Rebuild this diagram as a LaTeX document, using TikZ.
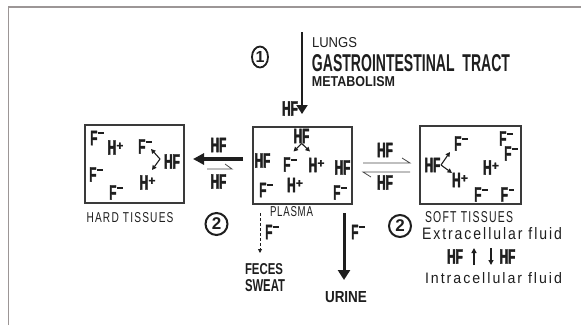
\documentclass[tikz,border=0pt]{standalone}
\usepackage{fontspec}
\usepackage{graphicx}
\setmainfont{Liberation Sans}
\newfontfamily\cf[FakeStretch=0.56, BoldFeatures={FakeBold=2}]{Liberation Sans}
\newfontfamily\pf[BoldFeatures={FakeBold=1.5}]{Liberation Sans}
\usetikzlibrary{arrows.meta,shapes.geometric}
\definecolor{ink}{HTML}{1E1E1E}
\definecolor{boxline}{HTML}{3A3A3A}
\definecolor{framec}{HTML}{9C9696}
\newcommand\Fm{F\hspace{0.8pt}\raisebox{11pt}{\rule{5.5pt}{1.8pt}}}
\newcommand\Hp{H\hspace{0.3pt}\raisebox{5pt}{\pf\bfseries\fontsize{12}{12}\selectfont +}}
\newcommand\fitw[3]{\resizebox{#1pt}{#2pt}{#3}}
\begin{document}
\begin{tikzpicture}[x=1pt,y=-1pt,
  chem/.style={font=\cf\bfseries\fontsize{21}{21}\selectfont, text=ink, inner sep=0pt},
  lbl/.style={text=ink, inner sep=0pt},
  tissue/.style={draw=boxline, line width=1.3pt, inner sep=0pt},
  smallarr/.style={-{Triangle[length=4.5pt,width=4.5pt]}, line width=1.1pt, draw=ink},
  harp/.style={draw=ink!80, line width=0.8pt},
  num/.style={draw=ink, line width=2pt, circle, minimum size=22pt, inner sep=0pt, text=ink, font=\bfseries\fontsize{17}{17}\selectfont}]
\useasboundingbox (0,0) rectangle (581,325);
\fill[white] (0,0) rectangle (581,325);
% frame
\draw[framec, line width=1.5pt] (8.5,325) -- (8.5,7) -- (581,7);

% boxes
\node[tissue, minimum width=99pt, minimum height=78pt] (hard) at (134.5,164) {};
\node[tissue, minimum width=99pt, minimum height=77pt] (plasma) at (302.5,165.5) {};
\node[tissue, minimum width=101pt, minimum height=78pt] (soft) at (470.5,165) {};

% hard tissue contents
\node[chem] (h1) at (97,138) {\Fm};
\node[chem] (h2) at (115.5,147.5) {\Hp};
\node[chem] (h3) at (145,146.5) {\Fm};
\node[chem] (h4) at (172,161.5) {HF};
\node[chem] (h5) at (96,174.5) {\Fm};
\node[chem] (h6) at (116,192.5) {\Fm};
\node[chem] (h7) at (147.5,182.5) {\Hp};
\coordinate (hv) at (160,159);
\coordinate (ht1) at (151,149);
\coordinate (ht2) at (152,170);
\draw[smallarr] (hv) -- (ht1);
\draw[smallarr] (hv) -- (ht2);

% plasma contents
\node[chem] (p1) at (301.5,136) {HF};
\node[chem] (p2) at (262.5,160.5) {HF};
\node[chem] (p3) at (290,164.5) {\Fm};
\node[chem] (p4) at (316.5,165) {\Hp};
\node[chem] (p5) at (342.5,167.5) {HF};
\node[chem] (p6) at (266,190) {\Fm};
\node[chem] (p7) at (295,185) {\Hp};
\node[chem] (p8) at (340,192.5) {\Fm};
\coordinate (pv) at (301.7,143.5);
\coordinate (pt1) at (293.5,151.5);
\coordinate (pt2) at (310,151.5);
\draw[smallarr] (pv) -- (pt1);
\draw[smallarr] (pv) -- (pt2);

% soft tissue contents
\node[chem] (s1) at (432.5,165) {HF};
\node[chem] (s2) at (461,143.5) {\Fm};
\node[chem] (s3) at (506,138.5) {\Fm};
\node[chem] (s4) at (511,153.5) {\Fm};
\node[chem] (s5) at (491,167.5) {\Hp};
\node[chem] (s6) at (460,180) {\Hp};
\node[chem] (s7) at (481,194.5) {\Fm};
\node[chem] (s8) at (507.5,194.5) {\Fm};
\coordinate (sv) at (441,165);
\coordinate (st1) at (450,152);
\coordinate (st2) at (452,173);
\draw[smallarr] (sv) -- (st1);
\draw[smallarr] (sv) -- (st2);

% intake
\node[draw=ink, line width=1.8pt, ellipse, minimum width=16pt, minimum height=21pt, inner sep=0pt, text=ink, font=\bfseries\fontsize{16}{16}\selectfont] (c1) at (260,57) {1};
\node[lbl] (lungs) at (334.5,43) {\fitw{45}{10}{LUNGS}};
\node[lbl] (git) at (411,63.5) {\fitw{198}{17}{\bfseries GASTROINTESTINAL\ \ TRACT}};
\node[lbl] (metab) at (353.5,82) {\fitw{83}{10}{\bfseries METABOLISM}};
\node[chem] (hfin) at (290,108.5) {HF};
\coordinate (inTop) at (302,32);
\coordinate (inEnd) at (302,114);
\draw[ink, line width=2pt, -{Triangle[length=9pt,width=11pt]}] (inTop) -- (inEnd);

% plasma <-> hard
\node[chem] (hfa) at (218.5,145) {HF};
\node[chem] (hfb) at (218.5,181.5) {HF};
\coordinate (hl1) at (243,159);
\coordinate (hl2) at (193,159);
\draw[ink, line width=4.5pt, -{Triangle[length=11pt,width=11pt]}] (hl1) -- (hl2);
\coordinate (hh1) at (207,169);
\coordinate (hh2) at (232,169);
\draw[harp] (hh1) -- (hh2) -- ++(-7,-5);

% plasma <-> soft
\node[chem] (hfc) at (385,150) {HF};
\node[chem] (hfd) at (385,182.5) {HF};
\coordinate (r1) at (363,163);
\coordinate (r2) at (410,163);
\coordinate (r3) at (410,172);
\coordinate (r4) at (363,172);
\draw[harp] (r1) -- (r2) -- ++(-8,-5);
\draw[harp] (r3) -- (r4) -- ++(8,5);

% labels under boxes
\node[lbl] (lhard) at (130,218) {\fitw{87}{10}{\addfontfeatures{LetterSpace=12}HARD TISSUES}};
\node[lbl] (lplasma) at (291.5,212) {\fitw{43}{10}{\addfontfeatures{LetterSpace=8}PLASMA}};
\node[lbl] (lsoft) at (469,217.5) {\fitw{88}{11}{\addfontfeatures{LetterSpace=12}SOFT TISSUES}};
\node[num] (c2a) at (216.5,224) {2};
\node[num] (c2b) at (400,226) {2};
\node[lbl] (extra) at (492,234) {\fitw{140}{12}{\addfontfeatures{LetterSpace=14}Extracellular fluid}};
\node[lbl] (intra) at (493.5,278) {\fitw{137}{11}{\addfontfeatures{LetterSpace=14}Intracellular fluid}};
\node[chem] (hfe) at (455,256.5) {HF};
\node[chem] (hff) at (507.5,256.5) {HF};
\coordinate (u1) at (474,265);
\coordinate (u2) at (474,248);
\coordinate (d1) at (491,248);
\coordinate (d2) at (491,265);
\draw[ink, line width=1.4pt, -{Triangle[length=5pt,width=5pt]}] (u1) -- (u2);
\draw[ink, line width=1.4pt, -{Triangle[length=5pt,width=5pt]}] (d1) -- (d2);

% excretion
\coordinate (dash1) at (260,213);
\coordinate (dash2) at (260,253);
\draw[ink, line width=0.8pt, dash pattern=on 3pt off 2pt, -{Triangle[length=4pt,width=4pt]}] (dash1) -- (dash2);
\node[chem] (fd) at (272,232) {\Fm};
\node[lbl] (feces) at (264,269) {\fitw{38}{11}{\bfseries FECES}};
\node[lbl] (sweat) at (265,286) {\fitw{40}{12}{\bfseries SWEAT}};
\coordinate (ur1) at (344,213);
\coordinate (ur2) at (344,280);
\draw[ink, line width=3pt, -{Triangle[length=10pt,width=12pt]}] (ur1) -- (ur2);
\node[chem] (fu) at (358,232) {\Fm};
\node[lbl] (urine) at (346,297.5) {\fitw{42}{11}{\bfseries URINE}};
\end{tikzpicture}
\end{document}
